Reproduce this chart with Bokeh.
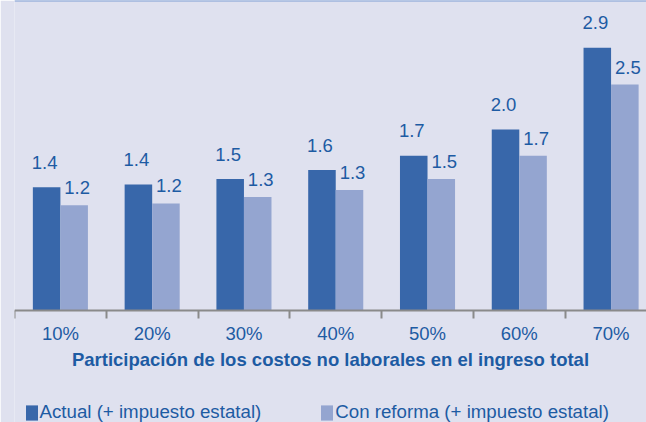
import numpy as np
from bokeh.plotting import figure
from bokeh.models import FixedTicker, Span, Legend, LegendItem, Range1d
from bokeh.core.properties import value
from bokeh.embed import file_html
from bokeh.resources import INLINE

# ---- data ----
categories = ["10%", "20%", "30%", "40%", "50%", "60%", "70%"]
actual = [1.37, 1.40, 1.46, 1.56, 1.72, 2.01, 2.92]
reforma = [1.17, 1.19, 1.26, 1.34, 1.46, 1.72, 2.51]
series_names = ["Actual (+ impuesto estatal)", "Con reforma (+ impuesto estatal)"]
x_title = "Participación de los costos no laborales en el ingreso total"

# ---- styles ----
BG = "#dfe1ef"
DARK = "#3867aa"
LIGHT = "#94a5d0"
TEXT = "#1d5ba3"
AXIS = "#8a8a8a"
TOPLINE = "#7f9dd3"
FONT = "Liberation Sans"
FS = "18.5px"

W, H = 646, 422
xs = np.arange(len(categories)) + 0.5
dodge = 0.15
bar_w = 0.3
px_per_unit = 90.0
base_px = 310          # pixel row of the zero line from the top
y_top = base_px / px_per_unit
y_bottom = -(H - base_px) / px_per_unit

p = figure(width=W, height=H, title=None,
           x_range=Range1d(0, 6.886), y_range=Range1d(y_bottom, y_top),
           output_backend="svg", toolbar_location=None, y_axis_location=None,
           min_border_left=14, min_border_right=0, min_border_top=0, min_border_bottom=0)
p.background_fill_color = BG
p.border_fill_color = BG
p.outline_line_color = None
p.xgrid.visible = False
p.ygrid.visible = False

r1 = p.vbar(x=xs - dodge, top=actual, width=bar_w, fill_color=DARK, line_color=None)
r2 = p.vbar(x=xs + dodge, top=reforma, width=bar_w, fill_color=LIGHT, line_color=None)

p.text(x=xs - dodge, y=actual, text=[f"{v:.1f}" for v in actual],
       text_align="center", text_baseline="alphabetic", x_offset=-2, y_offset=-25,
       text_font=value(FONT), text_font_size=FS, text_color=TEXT)
p.text(x=xs + dodge, y=reforma, text=[f"{v:.1f}" for v in reforma],
       text_align="center", text_baseline="alphabetic", x_offset=3, y_offset=-17.5,
       text_font=value(FONT), text_font_size=FS, text_color=TEXT)

p.add_layout(Span(location=y_top, dimension="width", line_color=TOPLINE, line_width=2))

ax = p.xaxis[0]
ax.fixed_location = 0
ax.ticker = FixedTicker(ticks=list(xs), minor_ticks=list(range(len(categories) + 1)))
ax.major_label_overrides = {float(x): c for x, c in zip(xs, categories)}
ax.major_tick_out = 0
ax.major_tick_in = 0
ax.minor_tick_out = 8
ax.minor_tick_in = 0
ax.minor_tick_line_color = AXIS
ax.minor_tick_line_width = 2
ax.axis_line_color = AXIS
ax.axis_line_width = 2
ax.major_label_standoff = 4
ax.major_label_text_font = FONT
ax.major_label_text_font_size = FS
ax.major_label_text_color = TEXT
ax.axis_label = x_title
ax.axis_label_standoff = 2
ax.axis_label_text_font = FONT
ax.axis_label_text_font_style = "bold"
ax.axis_label_text_font_size = FS
ax.axis_label_text_color = TEXT

legend = Legend(items=[LegendItem(label=series_names[0], renderers=[r1]),
                       LegendItem(label=series_names[1], renderers=[r2])],
                location=(9.5, -1), orientation="horizontal",
                glyph_width=15, glyph_height=19, label_standoff=1, spacing=58,
                padding=0, margin=0, border_line_color=None, background_fill_alpha=0,
                label_text_font=FONT, label_text_font_size="18.7px",
                label_text_color=TEXT, label_height=19)
p.add_layout(legend)

open("out.html", "w").write(file_html(p, INLINE))
